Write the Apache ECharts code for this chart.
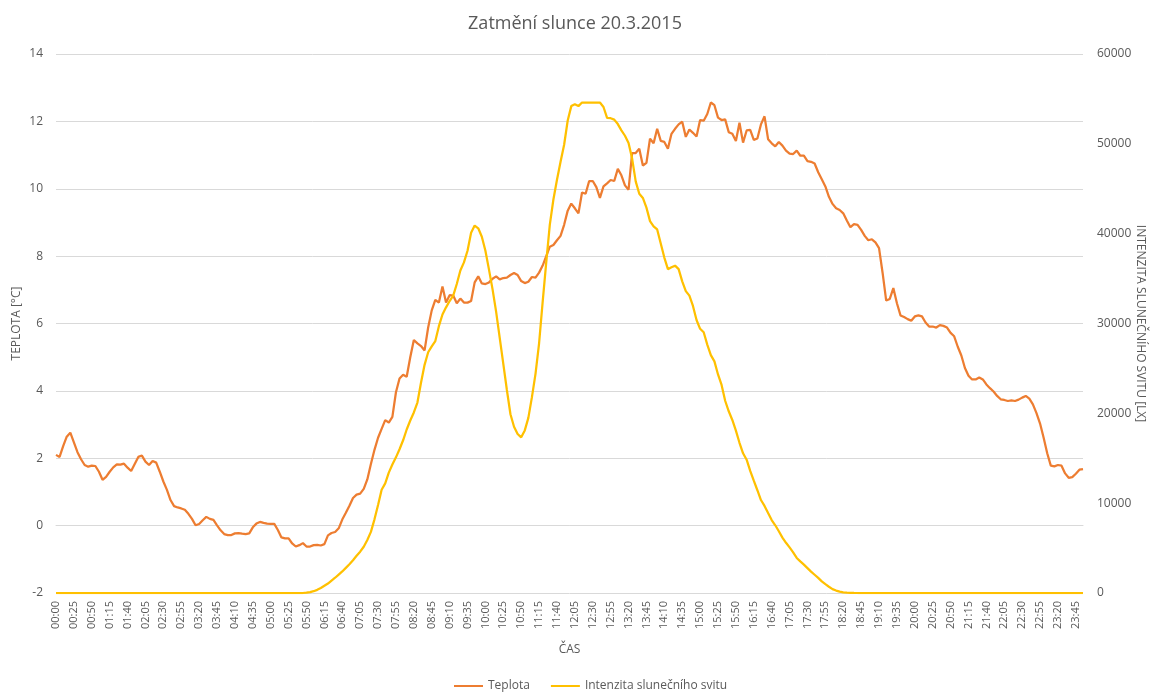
<!DOCTYPE html>
<html>
<head>
<meta charset="utf-8">
<title>Zatmění slunce 20.3.2015</title>
<script src="https://cdn.jsdelivr.net/npm/echarts@6/dist/echarts.min.js"></script>
<style>
  html, body { margin: 0; padding: 0; background: #fff; }
  #chart { width: 1150px; height: 693px; }
</style>
</head>
<body>
<div id="chart"></div>
<script>
// časy měření po 5 minutách (kategorie osy X)
const times = []
for (let h = 0; h < 24; h++) {
  for (let m = 0; m < 60; m += 5) {
    times.push(String(h).padStart(2, '0') + ':' + String(m).padStart(2, '0'))
  }
}

// teplota [°C], 288 hodnot
const teplota = [
  2.10, 2.04, 2.36, 2.64, 2.76, 2.47, 2.18, 1.97, 1.80, 1.75, 1.78, 1.77,
  1.60, 1.36, 1.45, 1.60, 1.73, 1.82, 1.81, 1.84, 1.72, 1.62, 1.83, 2.04,
  2.08, 1.90, 1.80, 1.92, 1.87, 1.60, 1.31, 1.06, 0.76, 0.58, 0.54, 0.51,
  0.47, 0.35, 0.20, 0.01, 0.05, 0.16, 0.26, 0.20, 0.17, 0.01, -0.14, -0.25,
  -0.28, -0.28, -0.23, -0.22, -0.24, -0.25, -0.23, -0.05, 0.06, 0.11, 0.08, 0.06,
  0.05, 0.05, -0.13, -0.35, -0.38, -0.38, -0.53, -0.62, -0.58, -0.52, -0.62, -0.62,
  -0.58, -0.57, -0.59, -0.55, -0.29, -0.22, -0.19, -0.08, 0.18, 0.38, 0.59, 0.82,
  0.92, 0.95, 1.09, 1.37, 1.83, 2.25, 2.61, 2.87, 3.13, 3.06, 3.23, 3.96,
  4.37, 4.48, 4.42, 5.00, 5.51, 5.41, 5.33, 5.20, 5.88, 6.39, 6.70, 6.62,
  7.10, 6.62, 6.84, 6.83, 6.60, 6.74, 6.62, 6.62, 6.67, 7.22, 7.40, 7.19,
  7.17, 7.22, 7.33, 7.40, 7.31, 7.35, 7.36, 7.44, 7.50, 7.44, 7.26, 7.20,
  7.24, 7.38, 7.36, 7.51, 7.72, 8.00, 8.28, 8.33, 8.47, 8.60, 8.93, 9.35,
  9.56, 9.42, 9.27, 9.89, 9.85, 10.23, 10.23, 10.05, 9.73, 10.07, 10.16, 10.26,
  10.23, 10.59, 10.40, 10.10, 9.97, 11.06, 11.06, 11.19, 10.69, 10.77, 11.49, 11.35,
  11.78, 11.42, 11.39, 11.19, 11.63, 11.78, 11.91, 11.99, 11.54, 11.76, 11.66, 11.55,
  12.04, 12.02, 12.22, 12.56, 12.48, 12.11, 12.04, 12.06, 11.68, 11.63, 11.42, 11.96,
  11.37, 11.73, 11.75, 11.45, 11.49, 11.91, 12.15, 11.47, 11.35, 11.26, 11.39, 11.28,
  11.13, 11.04, 11.03, 11.13, 10.98, 10.98, 10.82, 10.80, 10.75, 10.49, 10.28, 10.07,
  9.76, 9.55, 9.42, 9.37, 9.27, 9.06, 8.86, 8.95, 8.93, 8.78, 8.60, 8.47,
  8.50, 8.41, 8.24, 7.50, 6.68, 6.73, 7.05, 6.60, 6.24, 6.19, 6.13, 6.08,
  6.21, 6.24, 6.21, 6.03, 5.91, 5.91, 5.88, 5.95, 5.93, 5.88, 5.72, 5.62,
  5.31, 5.05, 4.68, 4.45, 4.34, 4.34, 4.40, 4.34, 4.19, 4.08, 3.98, 3.85,
  3.75, 3.73, 3.70, 3.72, 3.70, 3.74, 3.80, 3.85, 3.77, 3.60, 3.34, 3.03,
  2.61, 2.15, 1.78, 1.76, 1.80, 1.78, 1.55, 1.42, 1.44, 1.54, 1.66, 1.68
]

// intenzita slunečního svitu [lx], 288 hodnot
const svit = [
  0, 0, 0, 0, 0, 0, 0, 0, 0, 0, 0, 0,
  0, 0, 0, 0, 0, 0, 0, 0, 0, 0, 0, 0,
  0, 0, 0, 0, 0, 0, 0, 0, 0, 0, 0, 0,
  0, 0, 0, 0, 0, 0, 0, 0, 0, 0, 0, 0,
  0, 0, 0, 0, 0, 0, 0, 0, 0, 0, 0, 0,
  0, 0, 0, 0, 0, 0, 0, 0, 0, 0, 30, 100,
  200, 350, 550, 800, 1050, 1380, 1700, 2050, 2400, 2800, 3200, 3650,
  4150, 4600, 5150, 5900, 6800, 8200, 9800, 11500, 12200, 13400, 14300, 15100,
  16000, 17000, 18200, 19200, 20100, 21200, 23400, 25400, 26800, 27460, 28050, 29700,
  31000, 31800, 32500, 33100, 34400, 35900, 36800, 38100, 40100, 40900, 40600, 39660,
  38100, 36000, 33800, 31300, 28400, 25500, 22600, 19900, 18500, 17700, 17330, 18100,
  19500, 21800, 24400, 27800, 32400, 36800, 41000, 43800, 46000, 48000, 49900, 52600,
  54200, 54400, 54200, 54600, 54600, 54600, 54600, 54600, 54600, 54100, 52900, 52850,
  52700, 52200, 51500, 50900, 50100, 48360, 45820, 44450, 43980, 42900, 41400, 40820,
  40470, 38900, 37340, 36050, 36250, 36440, 36050, 34690, 33600, 33100, 31950, 30390,
  29410, 29020, 27650, 26480, 25780, 24330, 23160, 21400, 20230, 19260, 18080, 16720,
  15550, 14840, 13590, 12500, 11440, 10350, 9690, 8900, 8120, 7540, 6870, 6170,
  5590, 5080, 4530, 3900, 3520, 3160, 2770, 2380, 2030, 1680, 1290, 980,
  700, 430, 270, 150, 80, 40, 15, 5, 0, 0, 0, 0,
  0, 0, 0, 0, 0, 0, 0, 0, 0, 0, 0, 0,
  0, 0, 0, 0, 0, 0, 0, 0, 0, 0, 0, 0,
  0, 0, 0, 0, 0, 0, 0, 0, 0, 0, 0, 0,
  0, 0, 0, 0, 0, 0, 0, 0, 0, 0, 0, 0,
  0, 0, 0, 0, 0, 0, 0, 0, 0, 0, 0, 0
]

// hodnoty popisků os
const teplotaTicks = [-2, 0, 2, 4, 6, 8, 10, 12, 14]
const svitTicks = [0, 10000, 20000, 30000, 40000, 50000, 60000]

const FONT = "'Open Sans', 'Noto Sans', sans-serif"
const TXT = '#595959'

const chart = echarts.init(document.getElementById('chart'))

chart.setOption({
  animation: false,
  textStyle: { fontFamily: FONT },
  title: {
    text: 'Zatmění slunce 20.3.2015',
    left: 'center',
    top: 10,
    textStyle: { color: TXT, fontSize: 18, fontWeight: 'normal', fontFamily: FONT }
  },
  legend: {
    left: 449,
    top: 675,
    icon: 'rect',
    itemWidth: 29,
    itemHeight: 2,
    itemGap: 21,
    textStyle: { color: TXT, fontSize: 12 },
    data: ['Teplota', 'Intenzita slunečního svitu']
  },
  grid: {
    left: 56,
    right: 67,
    top: 54,
    bottom: 100,
    containLabel: false,
    outerBoundsMode: 'none'
  },
  xAxis: {
    type: 'category',
    data: times,
    boundaryGap: false,
    name: 'ČAS',
    nameLocation: 'middle',
    nameGap: 51,
    nameMoveOverlap: false,
    nameTextStyle: { color: TXT, fontSize: 12 },
    axisLine: { lineStyle: { color: '#d9d9d9' } },
    axisTick: { show: false },
    axisLabel: { color: TXT, fontSize: 11, rotate: 90, interval: 4, margin: 8 },
    splitLine: { show: false }
  },
  yAxis: [
    {
      type: 'value',
      min: teplotaTicks[0],
      max: teplotaTicks[teplotaTicks.length - 1],
      interval: teplotaTicks[1] - teplotaTicks[0],
      name: 'TEPLOTA [°C]',
      nameLocation: 'middle',
      nameGap: 33,
      nameMoveOverlap: false,
      nameTextStyle: { color: TXT, fontSize: 12 },
      axisLine: { show: false },
      axisTick: { show: false },
      axisLabel: { color: TXT, fontSize: 12, margin: 13 },
      splitLine: { lineStyle: { color: '#d9d9d9', width: 1 } }
    },
    {
      type: 'value',
      position: 'right',
      min: svitTicks[0],
      max: svitTicks[svitTicks.length - 1],
      interval: svitTicks[1] - svitTicks[0],
      name: 'INTENZITA SLUNEČNÍHO SVITU [LX]',
      nameLocation: 'middle',
      nameRotate: -90,
      nameGap: 51,
      nameMoveOverlap: false,
      nameTextStyle: { color: TXT, fontSize: 12 },
      axisLine: { show: false },
      axisTick: { show: false },
      axisLabel: { color: TXT, fontSize: 12, margin: 14, formatter: (v) => String(v) },
      splitLine: { show: false }
    }
  ],
  series: [
    {
      name: 'Teplota',
      type: 'line',
      yAxisIndex: 0,
      data: teplota,
      symbol: 'none',
      lineStyle: { color: '#ed7d31', width: 2.25 },
      itemStyle: { color: '#ed7d31' }
    },
    {
      name: 'Intenzita slunečního svitu',
      type: 'line',
      yAxisIndex: 1,
      data: svit,
      symbol: 'none',
      lineStyle: { color: '#ffc000', width: 2.25 },
      itemStyle: { color: '#ffc000' }
    }
  ]
})
</script>
</body>
</html>
